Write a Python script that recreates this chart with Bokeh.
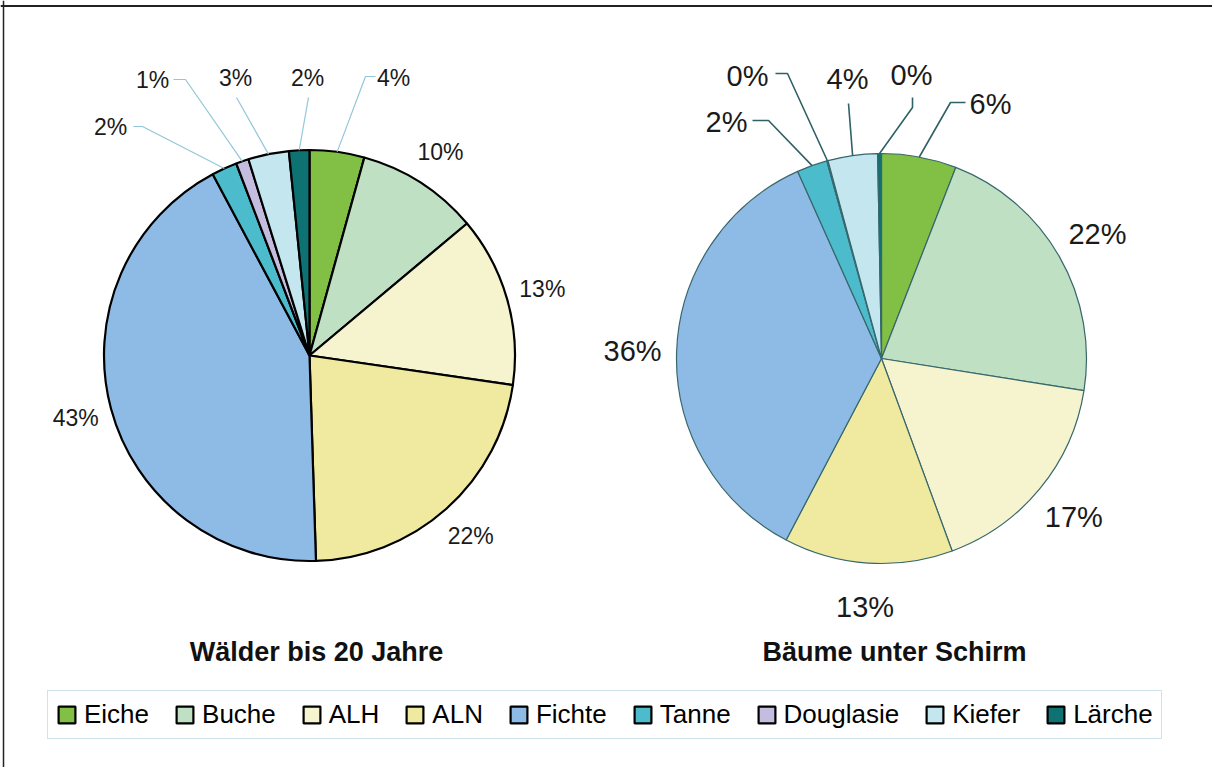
import math
from bokeh.plotting import figure
from bokeh.models import Range1d, ColumnDataSource, Legend, LegendItem, Span
from bokeh.embed import file_html
from bokeh.resources import INLINE
from bokeh.core.properties import value

# ---------------- data ----------------
species = ["Eiche", "Buche", "ALH", "ALN", "Fichte", "Tanne", "Douglasie", "Kiefer", "Lärche"]
colors = ["#82bf45", "#bfe0c3", "#f6f4cf", "#efeaa0", "#8dbbe5", "#4cbccc", "#c5bde0", "#c3e6ef", "#0e7272"]
young_forest = [4.3, 9.6, 13.4, 22.2, 42.7, 2.0, 1.0, 3.2, 1.6]      # Wälder bis 20 Jahre (%)
under_canopy = [5.9, 21.6, 16.9, 13.3, 35.6, 2.4, 0.1, 3.9, 0.3]     # Bäume unter Schirm (%)
titles = ["Wälder bis 20 Jahre", "Bäume unter Schirm"]

# ---------------- layout (page pixel coordinates) ----------------
W, H = 1212, 767
PAGE_H = 769


def Y(py):
    return PAGE_H - py


FONT = "Liberation Sans"

p = figure(width=W, height=H, x_range=Range1d(0, W), y_range=Range1d(PAGE_H - H, PAGE_H),
           output_backend="svg", toolbar_location=None, min_border=0,
           x_axis_location=None, y_axis_location=None)
p.grid.visible = False
p.outline_line_color = None
p.background_fill_color = "white"

# outer frame (top and left edges visible)
p.add_layout(Span(location=Y(5.5), dimension="width", line_color="#222222", line_width=2))
p.add_layout(Span(location=3, dimension="height", line_color="#222222", line_width=1.5))

# pie settings
pies = [
    dict(vals=young_forest, cx=309, cy=355, r=205.5, line_color="black", line_width=2.2,
         leader_color="#93c6da", leader_width=1.2, font_size="23px", label_r=242,
         title_x=316, title=titles[0],
         # small-slice labels: index -> (label x, label y, elbow x, elbow y, end x, end y)
         small={0: (393, 77, 365, 76, 375, 76),
                5: (110, 126, 142, 126, 133, 126),
                6: (152, 79, 185, 79, 173, 79),
                7: (235, 77, 236, 97, 236, 97),
                8: (307, 77, 308, 97, 308, 97)}),
    dict(vals=under_canopy, cx=881, cy=358, r=205, line_color="#37676c", line_width=1.2,
         leader_color="#2f6166", leader_width=1.6, font_size="29px", label_r=249,
         title_x=894, title=titles[1],
         small={0: (990, 103, 950, 102, 965, 102),
                5: (726, 121, 768, 120, 752, 120),
                6: (747, 75, 787, 73, 775, 73),
                7: (847, 78, 848, 103, 848, 103),
                8: (911, 74, 912, 107, 912, 97)}),
]

wedge_renderers = []
for cfg in pies:
    vals = cfg["vals"]
    total = sum(vals)
    starts, ends, mids = [], [], []
    cum = 0.0
    for v in vals:
        a0 = cum / total
        cum += v
        a1 = cum / total
        starts.append(math.pi / 2 - 2 * math.pi * a0)
        ends.append(math.pi / 2 - 2 * math.pi * a1)
        mids.append(2 * math.pi * (a0 + a1) / 2)   # clockwise from 12 o'clock
    n = len(vals)
    src = ColumnDataSource(dict(x=[cfg["cx"]] * n, y=[Y(cfg["cy"])] * n,
                                start=starts, end=ends, color=colors, name=species, val=vals))
    wr = p.wedge(x="x", y="y", radius=cfg["r"], start_angle="start", end_angle="end",
                 direction="clock", fill_color="color", line_color=cfg["line_color"],
                 line_width=cfg["line_width"], source=src)
    wedge_renderers.append(wr)

    lx, ly, txt = [], [], []
    lead_xs, lead_ys = [], []
    for i, v in enumerate(vals):
        m = mids[i]
        label = f"{round(v)}%"
        txt.append(label)
        if i in cfg["small"]:
            tx, ty, ex, ey, ax, ay = cfg["small"][i]
            lx.append(tx)
            ly.append(Y(ty))
            edge_x = cfg["cx"] + cfg["r"] * math.sin(m)
            edge_y = cfg["cy"] - cfg["r"] * math.cos(m)
            lead_xs.append([edge_x, ex, ax])
            lead_ys.append([Y(edge_y), Y(ey), Y(ay)])
        else:
            lx.append(cfg["cx"] + cfg["label_r"] * math.sin(m))
            ly.append(Y(cfg["cy"] - cfg["label_r"] * math.cos(m)))
    p.multi_line(xs=lead_xs, ys=lead_ys, line_color=cfg["leader_color"], line_width=cfg["leader_width"])
    p.text(x=lx, y=ly, text=txt, text_font=value(FONT), text_font_size=cfg["font_size"],
           text_align="center", text_baseline="middle", text_color="#1a1a1a")

    p.text(x=[cfg["title_x"]], y=[Y(651)], text=[cfg["title"]], text_font=value(FONT),
           text_font_size="27px", text_font_style="bold", text_align="center",
           text_baseline="middle", text_color="#111111")

# legend
items = [LegendItem(label=s, renderers=[wedge_renderers[0]], index=i) for i, s in enumerate(species)]
legend = Legend(items=items, orientation="horizontal", location=(47, 28),
                label_text_font=FONT, label_text_font_size="26px", label_text_color="#000000",
                glyph_width=21, glyph_height=21, label_standoff=7, spacing=25,
                padding=8, margin=0, border_line_color="#9cc8dc", border_line_width=1.5,
                background_fill_color="white", background_fill_alpha=1.0)
p.add_layout(legend)

open("out.html", "w").write(file_html(p, INLINE))
